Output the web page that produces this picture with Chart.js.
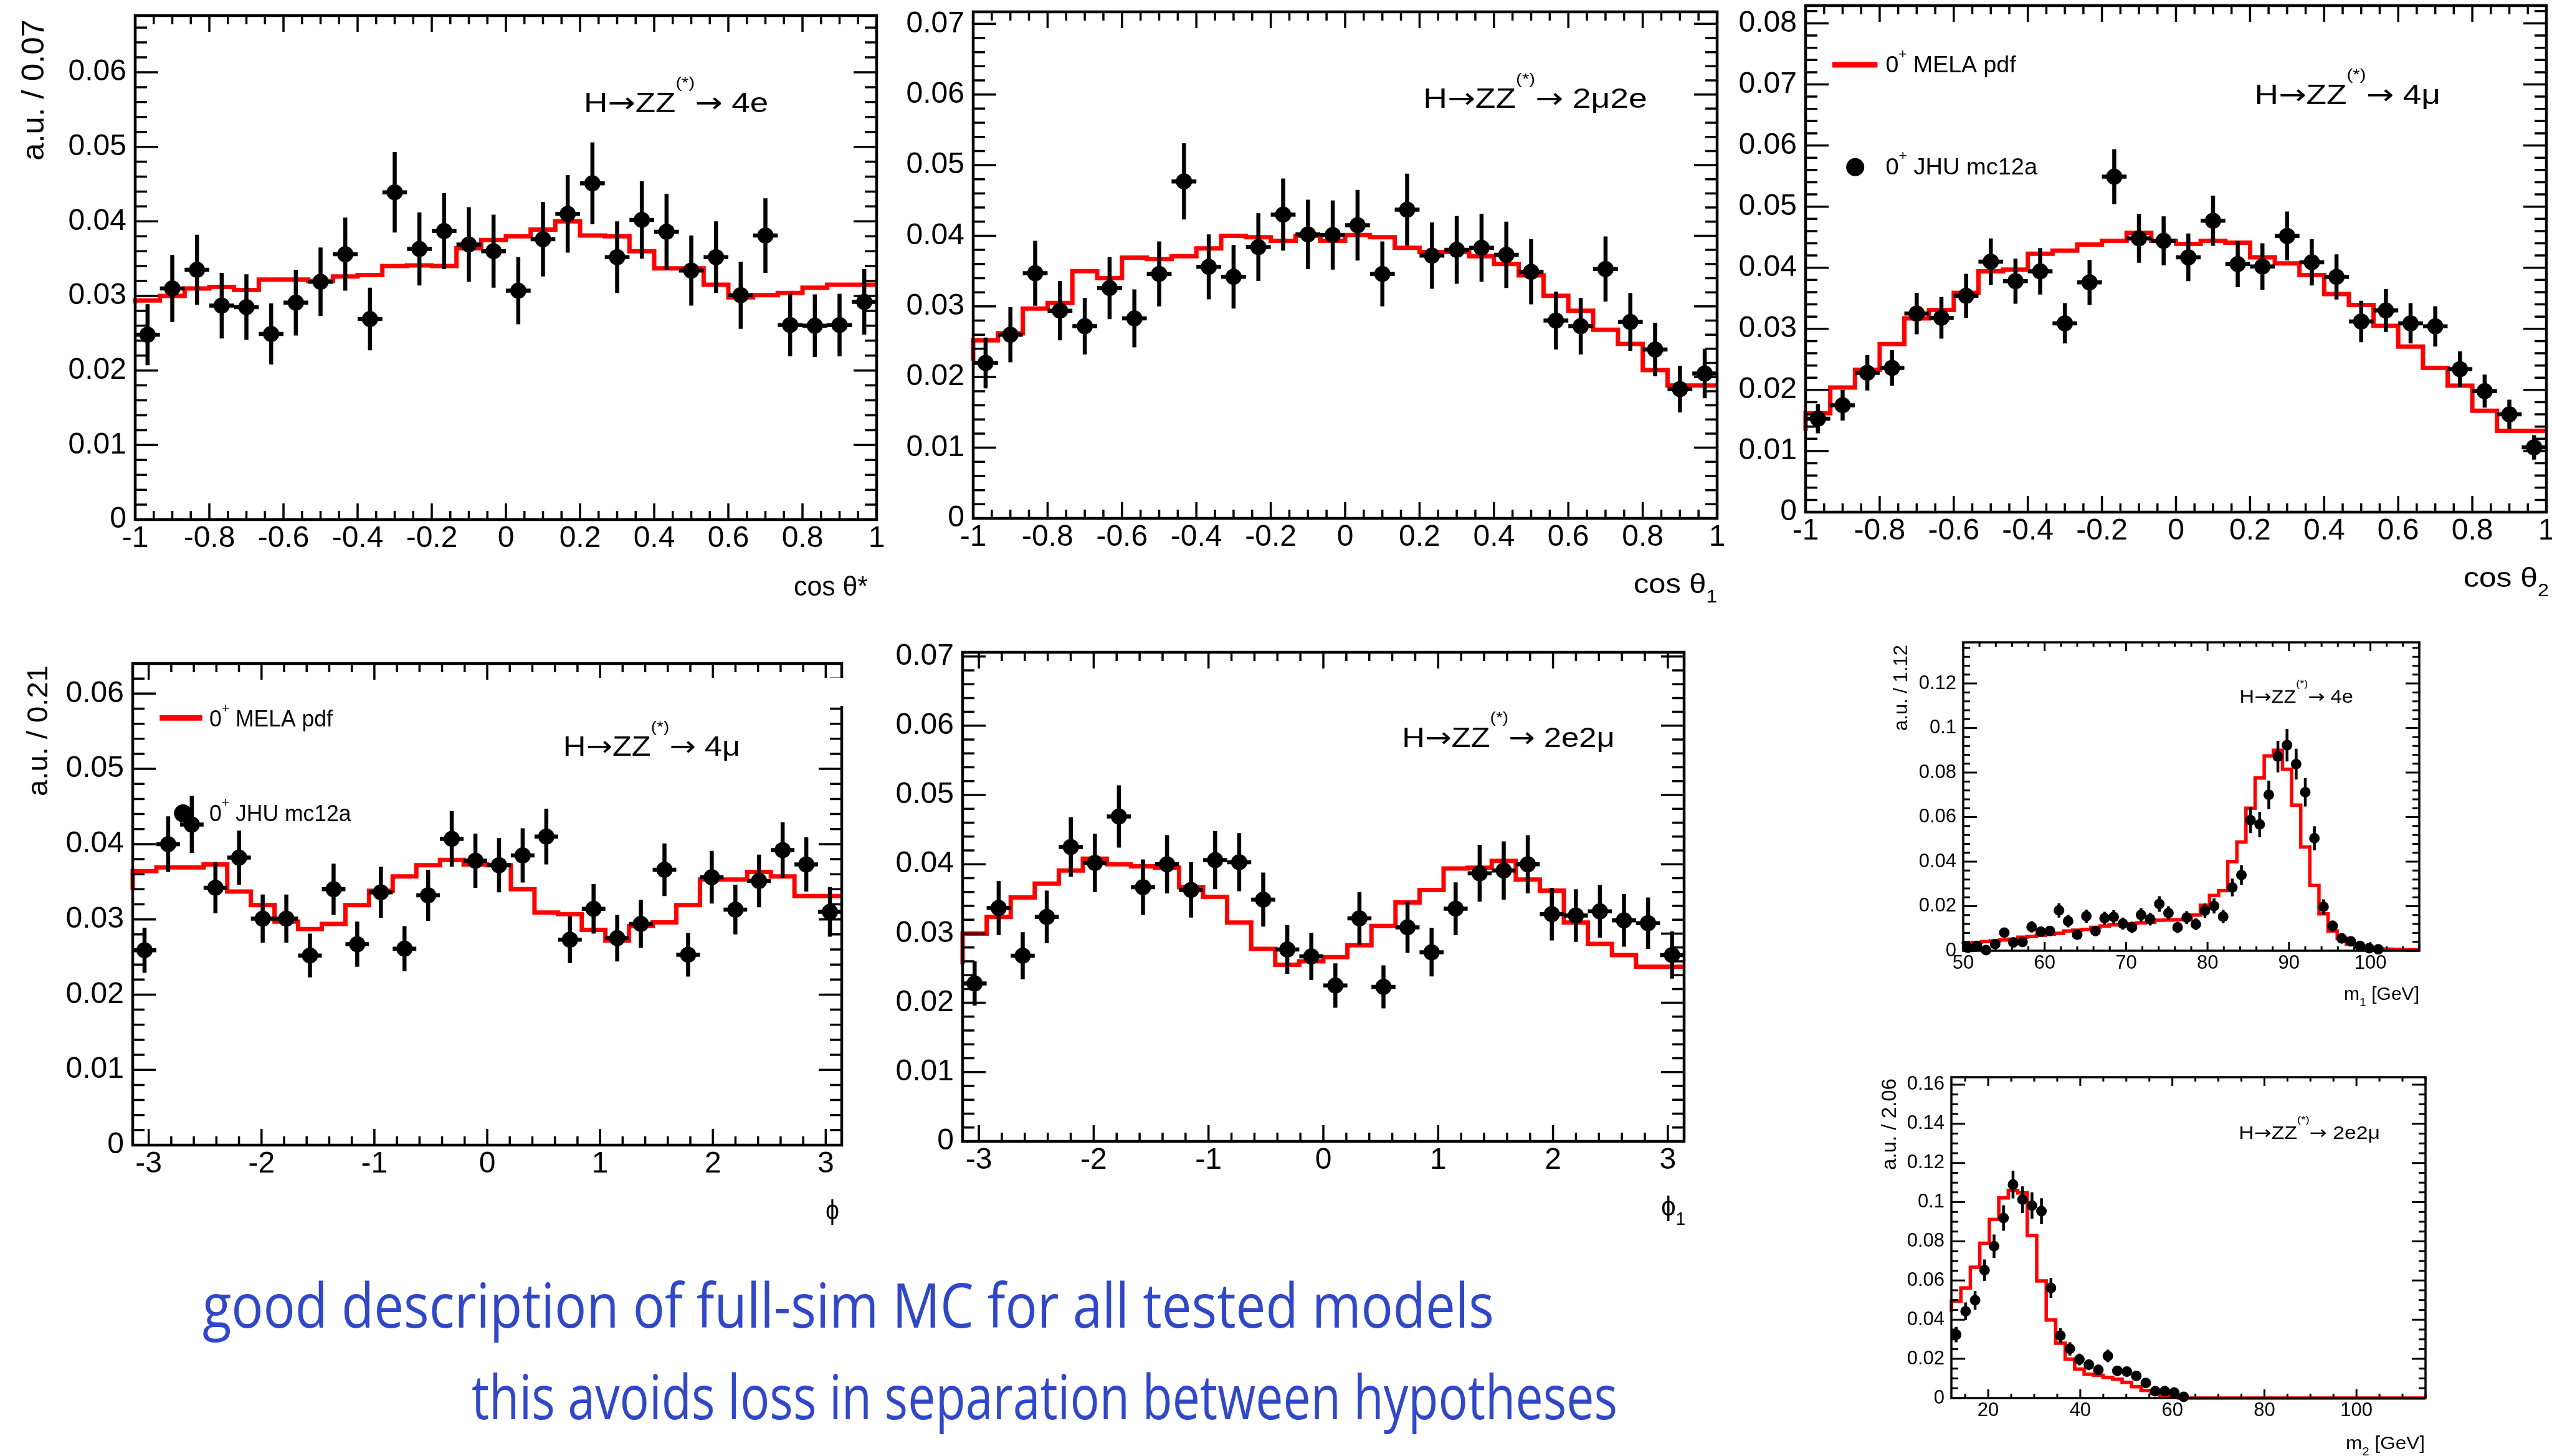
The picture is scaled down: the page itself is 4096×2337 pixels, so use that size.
<!DOCTYPE html>
<html>
<head>
<meta charset="utf-8">
<title>H→ZZ(*) angular and mass distributions</title>
<script src="https://cdn.jsdelivr.net/npm/chart.js@4.4.1/dist/chart.umd.min.js"></script>
<style>
  html, body { margin: 0; padding: 0; background: #fff; }
  body { width: 4096px; height: 2337px; position: relative; overflow: hidden; }
  canvas { position: absolute; }
  .note {
    position: absolute; display: inline-block; white-space: nowrap;
    font-family: 'Open Sans', 'Noto Sans', sans-serif; font-size: 98px; line-height: 1.2;
    color: #3048c8; transform-origin: 0 0;
  }
</style>
</head>
<body>
<div class="note" id="note1"></div>
<div class="note" id="note2"></div>
<script>
// ---- data (a.u. per bin) ----

// cos theta*, 4e, 30 bins in [-1, 1]
const cosThetaStarMC = [0.0248, 0.031, 0.0335, 0.0287, 0.0285, 0.0249, 0.0291, 0.0319, 0.0356, 0.0269,
  0.0439, 0.0363, 0.0387, 0.0369, 0.036, 0.0307, 0.0376, 0.041, 0.0451, 0.0352,
  0.0402, 0.0386, 0.0334, 0.0352, 0.0301, 0.0381, 0.0261, 0.026, 0.0261, 0.0292];
const cosThetaStarErr = [0.0041, 0.0045, 0.0047, 0.0044, 0.0044, 0.0041, 0.0044, 0.0046, 0.0049, 0.0042,
  0.0054, 0.0049, 0.0051, 0.005, 0.0049, 0.0045, 0.005, 0.0052, 0.0055, 0.0048,
  0.0052, 0.0051, 0.0047, 0.0048, 0.0045, 0.005, 0.0042, 0.0042, 0.0042, 0.0044];
const cosThetaStarPdf = [0.029, 0.0294, 0.030, 0.031, 0.0312, 0.0308, 0.0322, 0.0322, 0.032, 0.0326,
  0.0328, 0.034, 0.0341, 0.034, 0.0364, 0.0375, 0.038, 0.0389, 0.040, 0.0381,
  0.038, 0.036, 0.0337, 0.0337, 0.0315, 0.0298, 0.0301, 0.0304, 0.0311, 0.0315];

// cos theta1, 2mu2e
const cosTheta1MC = [0.022, 0.026, 0.0347, 0.0294, 0.0272, 0.0326, 0.0283, 0.0346, 0.0477, 0.0356,
  0.0342, 0.0384, 0.043, 0.0402, 0.0401, 0.0415, 0.0346, 0.0437, 0.0372, 0.038,
  0.0383, 0.0373, 0.0349, 0.028, 0.0272, 0.0353, 0.0278, 0.0239, 0.0183, 0.0205];
const cosTheta1Err = [0.0036, 0.0039, 0.0046, 0.0042, 0.004, 0.0044, 0.0041, 0.0046, 0.0054, 0.0046,
  0.0045, 0.0048, 0.0051, 0.0049, 0.0049, 0.005, 0.0046, 0.0051, 0.0047, 0.0048,
  0.0048, 0.0047, 0.0046, 0.0041, 0.004, 0.0046, 0.0041, 0.0038, 0.0033, 0.0035];
const cosTheta1Pdf = [0.0223, 0.0252, 0.0262, 0.0297, 0.0305, 0.035, 0.034, 0.0369, 0.0367, 0.0371,
  0.0382, 0.040, 0.0398, 0.0393, 0.040, 0.0393, 0.0401, 0.0398, 0.0383, 0.0377,
  0.0377, 0.0371, 0.036, 0.0344, 0.0315, 0.0294, 0.0267, 0.0247, 0.021, 0.0188];

// cos theta2, 4mu
const cosTheta2MC = [0.0153, 0.0175, 0.0228, 0.0236, 0.0325, 0.0318, 0.0354, 0.041, 0.0378, 0.0394,
  0.0309, 0.0376, 0.0549, 0.0448, 0.0444, 0.0417, 0.0477, 0.0406, 0.0402, 0.0452,
  0.0409, 0.0385, 0.0312, 0.033, 0.0309, 0.0304, 0.0234, 0.0198, 0.016, 0.0106];
const cosTheta2Err = [0.0024, 0.0025, 0.0029, 0.0029, 0.0034, 0.0034, 0.0036, 0.0038, 0.0037, 0.0038,
  0.0033, 0.0037, 0.0045, 0.004, 0.004, 0.0039, 0.0041, 0.0038, 0.0038, 0.004,
  0.0038, 0.0037, 0.0034, 0.0035, 0.0033, 0.0033, 0.0029, 0.0027, 0.0024, 0.002];
const cosTheta2Pdf = [0.0133, 0.0162, 0.0204, 0.0233, 0.0275, 0.0317, 0.0331, 0.0359, 0.0394, 0.0397,
  0.0423, 0.0428, 0.0438, 0.0444, 0.0457, 0.0444, 0.0439, 0.0444, 0.0441, 0.0417,
  0.0407, 0.0388, 0.0357, 0.0339, 0.0305, 0.0271, 0.0236, 0.0207, 0.0166, 0.0133];

// phi, 4mu, 30 bins in [-pi, pi]
const phiMC = [0.0259, 0.040, 0.0426, 0.0342, 0.0382, 0.0301, 0.0301, 0.0252, 0.034, 0.0267,
  0.0336, 0.0261, 0.0332, 0.0407, 0.0378, 0.0372, 0.0385, 0.041, 0.0273, 0.0314,
  0.0275, 0.0294, 0.0366, 0.0253, 0.0356, 0.0313, 0.0351, 0.0392, 0.0373, 0.031];
const phiErr = [0.003, 0.0037, 0.0038, 0.0034, 0.0036, 0.0032, 0.0032, 0.0029, 0.0034, 0.003,
  0.0034, 0.003, 0.0034, 0.0037, 0.0036, 0.0036, 0.0036, 0.0037, 0.0031, 0.0033,
  0.0031, 0.0032, 0.0035, 0.0029, 0.0035, 0.0033, 0.0035, 0.0037, 0.0036, 0.0033];
const phiPdf = [0.0339, 0.0364, 0.0369, 0.0369, 0.0373, 0.0337, 0.0319, 0.0297, 0.0287, 0.0294,
  0.0319, 0.0338, 0.0357, 0.0372, 0.0379, 0.0373, 0.0372, 0.034, 0.0309, 0.0307,
  0.0286, 0.0272, 0.0291, 0.0296, 0.0319, 0.0353, 0.0353, 0.0363, 0.0357, 0.0331];

// phi1, 2e2mu
const phi1MC = [0.0228, 0.0337, 0.0268, 0.0324, 0.0425, 0.0402, 0.0469, 0.0367, 0.040, 0.0363,
  0.0406, 0.0403, 0.0349, 0.0277, 0.0267, 0.0225, 0.0322, 0.0223, 0.0309, 0.0273,
  0.0336, 0.0387, 0.0391, 0.040, 0.0328, 0.0326, 0.0332, 0.0319, 0.0315, 0.0269];
const phi1Err = [0.0032, 0.0039, 0.0034, 0.0038, 0.0043, 0.0042, 0.0045, 0.004, 0.0042, 0.004,
  0.0042, 0.0042, 0.0039, 0.0035, 0.0034, 0.0032, 0.0038, 0.0031, 0.0037, 0.0035,
  0.0038, 0.0041, 0.0042, 0.0042, 0.0038, 0.0038, 0.0038, 0.0038, 0.0037, 0.0034];
const phi1Pdf = [0.0256, 0.030, 0.0324, 0.0352, 0.0372, 0.0391, 0.0408, 0.040, 0.0397, 0.0395,
  0.0367, 0.0353, 0.0316, 0.0278, 0.0255, 0.026, 0.0266, 0.0283, 0.0311, 0.0345,
  0.0363, 0.0394, 0.0395, 0.0405, 0.0378, 0.0362, 0.0316, 0.0285, 0.0269, 0.0252];

// m1, 4e, 50 bins of 1.12 GeV in [50, 106]
const m1MC = [0.0013, 0.0022, 0.0003, 0.003, 0.0081, 0.0037, 0.0039, 0.0107, 0.0085, 0.0089,
  0.0181, 0.0133, 0.0072, 0.0155, 0.0089, 0.0146, 0.0152, 0.0122, 0.0105, 0.0161,
  0.0142, 0.021, 0.0169, 0.0105, 0.0149, 0.0119, 0.018, 0.0201, 0.0153, 0.0284,
  0.034, 0.0586, 0.0567, 0.07, 0.0872, 0.0923, 0.0838, 0.0712, 0.0505, 0.0197,
  0.0111, 0.0055, 0.0042, 0.0022, 0.0011, 0.0006, null, null, null, null];
const m1Err = [0.0009, 0.0011, 0.0004, 0.0013, 0.0022, 0.0015, 0.0015, 0.0025, 0.0022, 0.0023,
  0.0032, 0.0028, 0.002, 0.003, 0.0023, 0.0029, 0.003, 0.0027, 0.0025, 0.003,
  0.0029, 0.0035, 0.0031, 0.0025, 0.0029, 0.0026, 0.0032, 0.0034, 0.003, 0.004,
  0.0044, 0.0058, 0.0057, 0.0064, 0.0071, 0.0073, 0.0069, 0.0064, 0.0054, 0.0034,
  0.0025, 0.0018, 0.0016, 0.0011, 0.0008, 0.0006, null, null, null, null];
const m1Pdf = [0.003, 0.0033, 0.0037, 0.0041, 0.0044, 0.0048, 0.0052, 0.0061, 0.0064, 0.0069,
  0.0074, 0.0078, 0.0089, 0.0092, 0.0096, 0.0105, 0.0111, 0.0116, 0.0119, 0.0122,
  0.0125, 0.0127, 0.0137, 0.0138, 0.0139, 0.014, 0.016, 0.0204, 0.0248, 0.027,
  0.040, 0.0488, 0.064, 0.0776, 0.0875, 0.090, 0.0815, 0.0654, 0.0466, 0.0293,
  0.0166, 0.0089, 0.0055, 0.003, 0.0018, 0.0012, 0.0009, 0.0007, 0.0006, 0.0005];

// m2, 2e2mu, 50 bins of 2.06 GeV in [12, 115]
const m2MC = [0.0324, 0.0443, 0.0499, 0.0653, 0.0775, 0.0919, 0.109, 0.1013, 0.0983, 0.0954,
  0.0562, 0.0319, 0.0251, 0.0197, 0.017, 0.0144, 0.0215, 0.0139, 0.0135, 0.0113,
  0.0077, 0.0035, 0.0035, 0.0028, 0.0006, null, null, null, null, null,
  null, null, null, null, null, null, null, null, null, null,
  null, null, null, null, null, null, null, null, null, null];
const m2Err = [0.0039, 0.0045, 0.0048, 0.0055, 0.006, 0.0065, 0.0071, 0.0068, 0.0067, 0.0066,
  0.0051, 0.0038, 0.0034, 0.003, 0.0028, 0.0026, 0.0032, 0.0025, 0.0025, 0.0023,
  0.0019, 0.0013, 0.0013, 0.0011, 0.0005, null, null, null, null, null,
  null, null, null, null, null, null, null, null, null, null,
  null, null, null, null, null, null, null, null, null, null];
const m2Pdf = [0.044, 0.0495, 0.0562, 0.0668, 0.079, 0.0912, 0.1022, 0.106, 0.1047, 0.0829,
  0.0598, 0.0398, 0.028, 0.0199, 0.0148, 0.0122, 0.0116, 0.0105, 0.0096, 0.008,
  0.0058, 0.0039, 0.0023, 0.0013, 0.0006, 0, 0, 0, 0, 0,
  0, 0, 0, 0, 0, 0, 0, 0, 0, 0,
  0, 0, 0, 0, 0, 0, 0, 0, 0, 0];

const noteLines = ['good description of full-sim MC for all tested models',
  'this avoids loss in separation between hypotheses'];
const legendPdf = ' MELA pdf';
const legendMC = ' JHU mc12a';

// ---- layout ----
const FONT = "'Liberation Sans', Arial, Helvetica, sans-serif";
const ARROW_FONT = "'DejaVu Sans', sans-serif";
const RED = '#ff0000';
const notePos = [[325, 2398, 2131], [757, 2596, 2278]]; // left, right, baseline

const bigStyle = { tickFont: 48, xTick: [26, 14], yTick: [37, 19], frameW: 4.5, tickW: 3.5,
  r: 13, ebW: 6.5, lineW: 7, titleSize: 45, xtSize: 44, padX: 2, padY: 14 };
const smallStyle = { tickFont: 31, xTick: [14, 7], yTick: [22, 11], frameW: 3.5, tickW: 3,
  r: 8.5, ebW: 4.5, lineW: 5.5, titleSize: 29, xtSize: 29, padX: 2, padY: 11 };

const sub = d => [d, 0.65, 0.35];

const panels = [
  { frame: [217, 25, 1407, 834], lo: -1, hi: 1, n: 30, xStep: 0.2, xSub: 4, yMax: 0.0676, yStep: 0.01, ySub: 5,
    mc: cosThetaStarMC, err: cosThetaStarErr, pdf: cosThetaStarPdf, st: bigStyle, padL: 200,
    channel: '4e', title: [0.605, 0.854, 0.191],
    ytitle: { text: 'a.u. / 0.07', dx: -165, dy: 6, len: 227, size: 50 },
    xtitle: { parts: [['cos θ*', 1, 0]], dx: -14, dy: 122, len: 119 } },
  { frame: [1562, 19, 2756, 832], lo: -1, hi: 1, n: 30, xStep: 0.2, xSub: 4, yMax: 0.0717, yStep: 0.01, ySub: 5,
    mc: cosTheta1MC, err: cosTheta1Err, pdf: cosTheta1Pdf, st: bigStyle, padL: 150,
    channel: '2μ2e', title: [0.605, 0.906, 0.190],
    xtitle: { parts: [['cos θ', 1, 0], sub('1')], dx: 0, dy: 120, len: 134 } },
  { frame: [2898, 9, 4087, 822], lo: -1, hi: 1, n: 30, xStep: 0.2, xSub: 4, yMax: 0.0829, yStep: 0.01, ySub: 5,
    mc: cosTheta2MC, err: cosTheta2Err, pdf: cosTheta2Pdf, st: bigStyle, padL: 150,
    channel: '4μ', title: [0.606, 0.857, 0.194],
    legend: { line: [0.036, 0.097, 0.117], dot: [0.067, 0.319], t1: [0.108, 0.284, 0.132], t2: [0.108, 0.313, 0.333] },
    xtitle: { parts: [['cos θ', 1, 0], sub('2')], dx: 4, dy: 120, len: 137 } },
  { frame: [213, 1065, 1351, 1838], lo: -Math.PI, hi: Math.PI, n: 30, xStep: 1, xSub: 5, yMax: 0.064, yStep: 0.01, ySub: 5,
    mc: phiMC, err: phiErr, pdf: phiPdf, st: bigStyle, padL: 190,
    channel: '4μ', title: [0.607, 0.857, 0.192],
    legend: { line: [0.038, 0.098, 0.113], dot: [0.071, 0.311], t1: [0.108, 0.282, 0.131], t2: [0.108, 0.308, 0.327] },
    ytitle: { text: 'a.u. / 0.21', dx: -154, dy: 3, len: 210, size: 47 },
    xtitle: { parts: [['ϕ', 1, 0]], dx: -4, dy: 119, len: 22 },
    cover: [842, 1088, 1360, 1133] },
  { frame: [1545, 1047, 2703, 1832], lo: -Math.PI, hi: Math.PI, n: 30, xStep: 1, xSub: 5, yMax: 0.0706, yStep: 0.01, ySub: 5,
    mc: phi1MC, err: phi1Err, pdf: phi1Pdf, st: bigStyle, padL: 150,
    channel: '2e2μ', title: [0.609, 0.904, 0.193],
    xtitle: { parts: [['ϕ', 1, 0], sub('1')], dx: 2, dy: 119, len: 39 } },
  { frame: [3151, 1031, 3883, 1526], lo: 50, hi: 106, n: 50, xStep: 10, xSub: 5, yMax: 0.1385, yStep: 0.02, ySub: 5,
    mc: m1MC, err: m1Err, pdf: m1Pdf, st: smallStyle, padL: 130,
    channel: '4e', title: [0.606, 0.855, 0.196],
    ytitle: { text: 'a.u. / 1.12', dx: -101, dy: 4, len: 138, size: 31 },
    xtitle: { parts: [['m', 1, 0], sub('1'), [' [GeV]', 1, 0]], dx: 0, dy: 79, len: 121 } },
  { frame: [3132, 1729, 3893, 2244], lo: 12, hi: 115, n: 50, xStep: 20, xSub: 4, yMax: 0.1638, yStep: 0.02, ySub: 4,
    mc: m2MC, err: m2Err, pdf: m2Pdf, st: smallStyle, padL: 130,
    channel: '2e2μ', title: [0.606, 0.904, 0.192],
    ytitle: { text: 'a.u. / 2.06', dx: -101, dy: 2, len: 147, size: 33 },
    xtitle: { parts: [['m', 1, 0], sub('2'), [' [GeV]', 1, 0]], dx: -1, dy: 82, len: 127 } }
];

function binEdges(lo, hi, n) {
  const e = [];
  for (let i = 0; i <= n; i++) e.push(lo + (hi - lo) * i / n);
  return e;
}

function fmtTick(v) {
  return v === 0 ? '0' : String(Math.round(v * 1e6) / 1e6);
}

// parts: [text, relative size, vertical shift in units of size, optional font]
function drawRich(ctx, parts, x, y, size, align, fitW) {
  ctx.save();
  let w = 0;
  const segs = parts.map(([t, k, dy, fam]) => {
    const font = (size * k) + 'px ' + (fam || FONT);
    ctx.font = font;
    const seg = { t, font, dy: dy * size, off: w };
    w += ctx.measureText(t).width;
    return seg;
  });
  const sx = fitW ? Math.min(1.4, Math.max(0.7, fitW / w)) : 1;
  ctx.translate(x, y);
  ctx.scale(sx, 1);
  const x0 = align === 'right' ? -w : 0;
  ctx.textAlign = 'left';
  ctx.textBaseline = 'alphabetic';
  ctx.fillStyle = '#000';
  segs.forEach(g => {
    ctx.font = g.font;
    ctx.fillText(g.t, x0 + g.off, g.dy);
  });
  ctx.restore();
}

function minorTicks(scale, step, nsub) {
  const out = [];
  const minor = step / nsub;
  const a = Math.ceil(scale.min / minor - 1e-6);
  const b = Math.floor(scale.max / minor + 1e-6);
  for (let i = a; i <= b; i++) {
    out.push({ px: scale.getPixelForValue(i * minor), major: i % nsub === 0 });
  }
  return out;
}

function rootPlugin(p, offX, offY) {
  const st = p.st;
  return {
    id: 'rootStyle',
    beforeDatasetDraw(chart, args) {
      if (args.index !== 0) return;
      const xs = chart.scales.x, ys = chart.scales.y, ctx = chart.ctx;
      ctx.save();
      ctx.strokeStyle = '#000';
      ctx.lineWidth = st.ebW;
      ctx.beginPath();
      p.mc.forEach((v, i) => {
        if (v === null) return;
        const e = p.err[i];
        const xc = xs.getPixelForValue((p.edges[i] + p.edges[i + 1]) / 2);
        const yv = ys.getPixelForValue(v);
        ctx.moveTo(xc, ys.getPixelForValue(v - e));
        ctx.lineTo(xc, ys.getPixelForValue(v + e));
        ctx.moveTo(xs.getPixelForValue(p.edges[i]), yv);
        ctx.lineTo(xs.getPixelForValue(p.edges[i + 1]), yv);
      });
      ctx.stroke();
      ctx.restore();
    },
    afterDraw(chart) {
      const ctx = chart.ctx;
      const { left, top, right, bottom } = chart.chartArea;
      const w = right - left, h = bottom - top;
      const xs = chart.scales.x, ys = chart.scales.y;
      ctx.save();
      ctx.strokeStyle = '#000';
      ctx.lineWidth = st.tickW;
      ctx.beginPath();
      minorTicks(xs, p.xStep, p.xSub).forEach(t => {
        const L = t.major ? st.xTick[0] : st.xTick[1];
        ctx.moveTo(t.px, bottom); ctx.lineTo(t.px, bottom - L);
        ctx.moveTo(t.px, top); ctx.lineTo(t.px, top + L);
      });
      minorTicks(ys, p.yStep, p.ySub).forEach(t => {
        const L = t.major ? st.yTick[0] : st.yTick[1];
        ctx.moveTo(left, t.px); ctx.lineTo(left + L, t.px);
        ctx.moveTo(right, t.px); ctx.lineTo(right - L, t.px);
      });
      ctx.stroke();
      ctx.lineWidth = st.frameW;
      ctx.strokeRect(left, top, w, h);

      if (p.cover) {
        ctx.fillStyle = '#fff';
        ctx.fillRect(p.cover[0] - offX, p.cover[1] - offY, p.cover[2] - p.cover[0], p.cover[3] - p.cover[1]);
      }

      // channel label
      const t = p.title;
      drawRich(ctx, [['H', 1, 0], ['→', 1, 0, ARROW_FONT], ['ZZ', 1, 0], ['(*)', 0.55, -0.85],
        ['→', 1, 0, ARROW_FONT], [' ' + p.channel, 1, 0]],
        left + t[0] * w, top + t[2] * h, st.titleSize, 'left', (t[1] - t[0]) * w);

      // legend
      if (p.legend) {
        const lg = p.legend;
        ctx.strokeStyle = RED;
        ctx.lineWidth = 9;
        ctx.beginPath();
        ctx.moveTo(left + lg.line[0] * w, top + lg.line[2] * h);
        ctx.lineTo(left + lg.line[1] * w, top + lg.line[2] * h);
        ctx.stroke();
        ctx.fillStyle = '#000';
        ctx.beginPath();
        ctx.arc(left + lg.dot[0] * w, top + lg.dot[1] * h, 14.5, 0, Math.PI * 2);
        ctx.fill();
        drawRich(ctx, [['0', 1, 0], ['+', 0.6, -0.62], [legendPdf, 1, 0]],
          left + lg.t1[0] * w, top + lg.t1[2] * h, 36, 'left', (lg.t1[1] - lg.t1[0]) * w);
        drawRich(ctx, [['0', 1, 0], ['+', 0.6, -0.62], [legendMC, 1, 0]],
          left + lg.t2[0] * w, top + lg.t2[2] * h, 36, 'left', (lg.t2[1] - lg.t2[0]) * w);
      }

      // axis titles
      const xt = p.xtitle;
      drawRich(ctx, xt.parts, right + xt.dx, bottom + xt.dy, st.xtSize, 'right', xt.len);
      if (p.ytitle) {
        const yt = p.ytitle;
        ctx.save();
        ctx.translate(left + yt.dx, top + yt.dy);
        ctx.rotate(-Math.PI / 2);
        drawRich(ctx, [[yt.text, 1, 0]], 0, 0.36 * yt.size, yt.size, 'right', yt.len);
        ctx.restore();
      }
      ctx.restore();
    }
  };
}

function makePanel(p) {
  const st = p.st;
  const L = p.padL, T = 45, R = 60, B = 175;
  const fw = p.frame[2] - p.frame[0], fh = p.frame[3] - p.frame[1];
  const offX = p.frame[0] - L, offY = p.frame[1] - T;
  const cv = document.createElement('canvas');
  cv.width = fw + L + R;
  cv.height = fh + T + B;
  cv.style.left = offX + 'px';
  cv.style.top = offY + 'px';
  document.body.appendChild(cv);

  p.edges = binEdges(p.lo, p.hi, p.n);
  const points = [];
  p.mc.forEach((v, i) => {
    if (v !== null) points.push({ x: (p.edges[i] + p.edges[i + 1]) / 2, y: v });
  });
  const steps = p.edges.map((e, i) => ({ x: e, y: p.pdf[Math.min(i, p.n - 1)] }));

  const tickFont = { family: FONT, size: st.tickFont };
  new Chart(cv, {
    type: 'scatter',
    data: {
      datasets: [
        { type: 'scatter', data: points, pointRadius: st.r, pointHoverRadius: st.r,
          pointBackgroundColor: '#000', pointBorderWidth: 0, clip: false },
        { type: 'line', data: steps, stepped: 'after', borderColor: RED, borderWidth: st.lineW,
          pointRadius: 0, fill: false, tension: 0, borderCapStyle: 'butt', borderJoinStyle: 'miter', clip: false }
      ]
    },
    options: {
      responsive: false,
      maintainAspectRatio: false,
      devicePixelRatio: 1,
      animation: false,
      events: [],
      layout: { padding: { top: T, right: R, left: 0, bottom: 0 } },
      plugins: { legend: { display: false }, tooltip: { enabled: false }, title: { display: false } },
      scales: {
        x: {
          type: 'linear', position: 'bottom', min: p.lo, max: p.hi,
          grid: { display: false, drawTicks: false }, border: { display: false },
          ticks: { stepSize: p.xStep, includeBounds: false, autoSkip: false, maxRotation: 0,
            padding: st.padX, color: '#000', font: tickFont, callback: fmtTick },
          afterFit: s => { s.height = B; }
        },
        y: {
          type: 'linear', position: 'left', min: 0, max: p.yMax,
          grid: { display: false, drawTicks: false }, border: { display: false },
          ticks: { stepSize: p.yStep, includeBounds: false, autoSkip: false,
            padding: st.padY, color: '#000', font: tickFont, callback: fmtTick },
          afterFit: s => { s.width = L; }
        }
      }
    },
    plugins: [rootPlugin(p, offX, offY)]
  });
}

panels.forEach(makePanel);

// blue comment lines under the plots
['note1', 'note2'].forEach((id, i) => {
  const el = document.getElementById(id);
  const [left, right, base] = notePos[i];
  el.textContent = noteLines[i];
  const mark = document.createElement('span');
  mark.style.cssText = 'display:inline-block;width:0;height:0;vertical-align:baseline';
  el.appendChild(mark);
  el.style.left = left + 'px';
  el.style.top = '0px';
  const r = el.getBoundingClientRect();
  const baseOff = mark.getBoundingClientRect().top - r.top;
  el.style.top = (base - baseOff) + 'px';
  el.style.transform = 'scaleX(' + ((right - left) / r.width) + ')';
});
</script>
</body>
</html>
